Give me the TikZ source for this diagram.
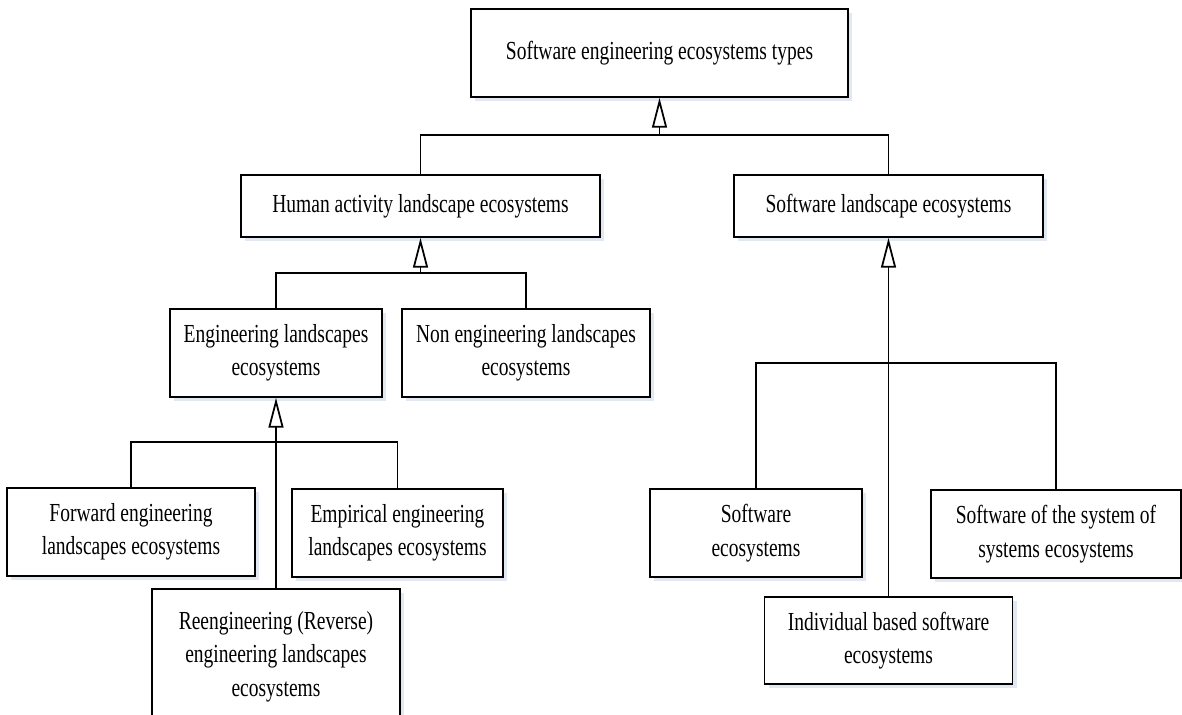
\documentclass[tikz,border=0pt]{standalone}
\usepackage{fontspec}
\setmainfont{Liberation Serif}[FakeStretch=0.75]
\usepackage{tikz}
\usetikzlibrary{positioning,shadows,arrows.meta}
\definecolor{shadowblue}{RGB}{226,232,241}

\tikzset{
    eco/.style={draw, line width=1pt, fill=white, align=center,
        font=\fontsize{14.8}{19}\selectfont,
        drop shadow={shadow xshift=2.5pt, shadow yshift=-2.5pt, fill=shadowblue, opacity=1}},
    link/.style={line width=1pt},
    gen/.style={line width=1pt, -{Triangle[open, length=17pt, width=8.5pt]}}
}

\begin{document}
\begin{tikzpicture}
    \path[use as bounding box, clip] (0,0) rectangle (23.64,14.3);

    % Top level
    \node[eco, minimum width=7.54cm, minimum height=1.76cm] (types) at (13.19,13.24) {Software engineering ecosystems types};

    % Landscapes
    \node[eco, minimum width=7.18cm, minimum height=1.24cm] (human) at (8.41,10.18) {Human activity landscape ecosystems};
    \node[eco, minimum width=6.18cm, minimum height=1.24cm] (swland) at (17.77,10.18) {Software landscape ecosystems};

    % Human activity children
    \node[eco, minimum width=4.24cm, minimum height=1.76cm] (eng) at (5.52,7.24) {Engineering landscapes\\ecosystems};
    \node[eco, minimum width=4.96cm, minimum height=1.76cm] (noneng) at (10.52,7.24) {Non engineering landscapes\\ecosystems};

    % Engineering children
    \node[eco, minimum width=4.96cm, minimum height=1.76cm] (forward) at (2.62,3.66) {Forward engineering\\landscapes ecosystems};
    \node[eco, minimum width=4.22cm, minimum height=1.76cm] (empirical) at (7.95,3.64) {Empirical engineering\\landscapes ecosystems};
    \node[eco, minimum width=4.96cm, minimum height=2.70cm] (reeng) at (5.52,1.17) {Reengineering (Reverse)\\engineering landscapes\\ecosystems};

    % Software landscape children
    \node[eco, minimum width=4.24cm, minimum height=1.76cm] (sweco) at (15.12,3.64) {Software\\ecosystems};
    \node[eco, minimum width=5.0cm, minimum height=1.76cm] (sos) at (21.12,3.62) {Software of the system of\\systems ecosystems};
    \node[eco, minimum width=4.96cm, minimum height=1.74cm] (indiv) at (17.77,1.49) {Individual based software\\ecosystems};

    % Junctions
    \coordinate (j1) at (13.19,11.6);
    \coordinate (j2) at (8.41,8.84);
    \coordinate (j3) at (5.52,5.46);
    \coordinate (j4) at (17.77,7.04);

    % Generalisation links
    \draw[link] (human.north) |- (j1) -| (swland.north);
    \draw[gen] (j1) -- (types.south);

    \draw[link] (eng.north) |- (j2) -| (noneng.north);
    \draw[gen] (j2) -- (human.south);

    \draw[link] (forward.north) |- (j3) -| (empirical.north);
    \draw[link] (reeng.north) -- (j3);
    \draw[gen] (j3) -- (eng.south);

    \draw[link] (sweco.north) |- (j4) -| (sos.north);
    \draw[link] (indiv.north) -- (j4);
    \draw[gen] (j4) -- (swland.south);
\end{tikzpicture}
\end{document}
